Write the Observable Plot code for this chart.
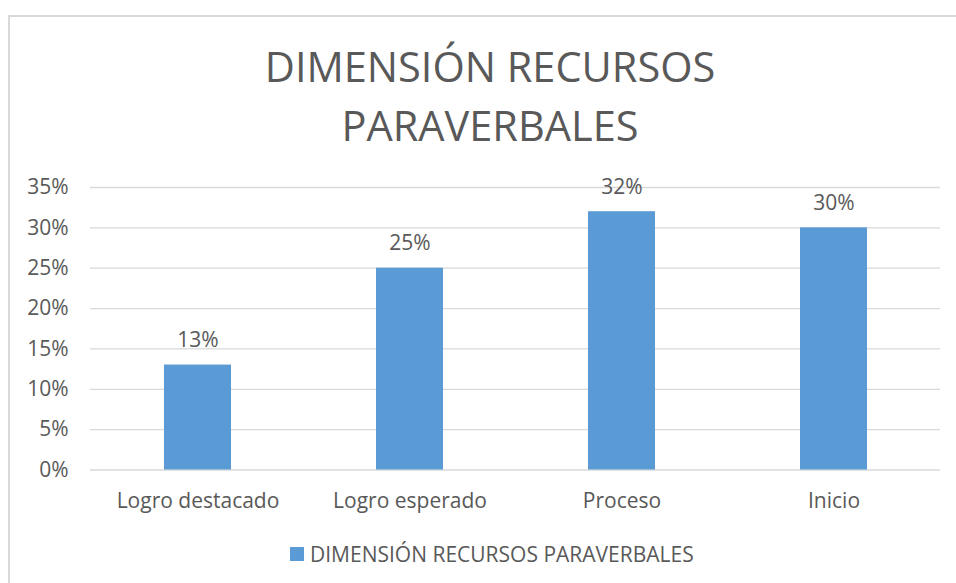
<!DOCTYPE html>
<html>
<head>
<meta charset="utf-8">
<script src="https://cdn.jsdelivr.net/npm/d3@7"></script>
<script src="https://cdn.jsdelivr.net/npm/@observablehq/plot@0.6"></script>
<style>
  html, body { margin: 0; padding: 0; background: #fff; overflow: hidden; width: 956px; height: 583px; }
  #frame { position: absolute; left: 8px; top: 15px; width: 1000px; height: 700px;
           border-left: 2px solid #d9d9d9; border-top: 2px solid #d9d9d9; box-sizing: border-box; }
  #title { position: absolute; left: 0; width: 980px; top: 37px; text-align: center;
           font-family: "Open Sans", sans-serif; font-size: 41.5px; line-height: 59px; color: #595959; }
  #chart { position: absolute; left: 0; top: 160px; }
  #legend { position: absolute; left: 290px; top: 540px; height: 28px; display: flex; align-items: center;
            font-family: "Open Sans", sans-serif; font-size: 21px; color: #595959; white-space: nowrap; }
  #legend .sw { width: 14px; height: 14px; background: #5b9bd5; margin-right: 6px; }
</style>
</head>
<body>
<div id="frame"></div>
<div id="title">DIMENSIÓN RECURSOS<br>PARAVERBALES</div>
<div id="chart"></div>
<div id="legend"><span class="sw"></span><span id="legendText"></span></div>
<script>
const seriesName = "DIMENSIÓN RECURSOS PARAVERBALES";
const categories = ["Logro destacado", "Logro esperado", "Proceso", "Inicio"];
const values = [0.13, 0.25, 0.32, 0.30];
const yTicks = [0, 0.05, 0.10, 0.15, 0.20, 0.25, 0.30, 0.35];

const data = categories.map((c, i) => ({category: c, value: values[i]}));
const pct = d => Math.round(d * 100) + "%";

document.getElementById("legendText").textContent = seriesName;

const chart = Plot.plot({
  width: 956,
  height: 370,
  marginTop: 27,
  marginBottom: 60.5,
  marginLeft: 90,
  marginRight: 16,
  style: {fontFamily: "Open Sans, sans-serif", fontSize: "21px", color: "#595959", background: "transparent", overflow: "visible"},
  x: {domain: categories, paddingInner: 0.685, paddingOuter: 0.3425, label: null},
  y: {domain: [0, 0.35], label: null},
  marks: [
    Plot.gridY(yTicks, {stroke: "#d9d9d9", strokeOpacity: 1, strokeWidth: 1.3}),
    Plot.barY(data, {x: "category", y: "value", fill: "#5b9bd5"}),
    Plot.text(data, {x: "category", y: "value", text: d => pct(d.value), dy: -24.5, fill: "#595959", fontSize: 21}),
    Plot.axisX({tickSize: 0, tickPadding: 23.5, fontSize: 21, fill: "#595959", label: null}),
    Plot.axisY(yTicks, {tickSize: 0, tickPadding: 22, tickFormat: pct, fontSize: 21, fill: "#595959", label: null})
  ]
});
document.getElementById("chart").appendChild(chart);
</script>
</body>
</html>
